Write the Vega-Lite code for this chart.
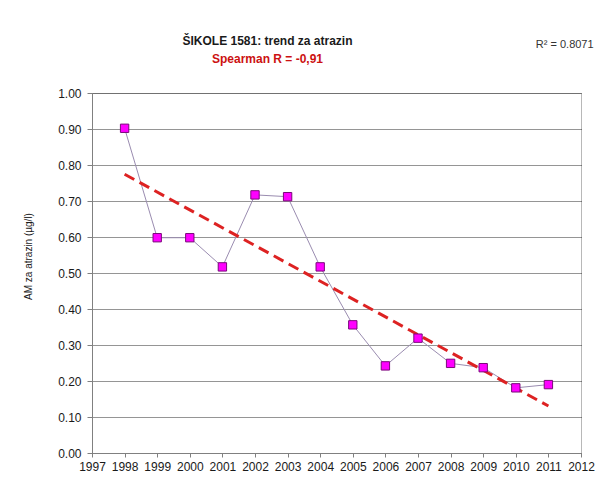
{
  "$schema": "https://vega.github.io/schema/vega-lite/v6.json",
  "width": 489,
  "height": 360,
  "autosize": {"type": "none"},
  "padding": {"left": 92, "top": 93, "right": 25, "bottom": 50},
  "background": "white",
  "title": {
    "text": "ŠIKOLE 1581: trend za atrazin",
    "subtitle": "Spearman R = -0,91",
    "anchor": "middle",
    "frame": "group",
    "dx": -69,
    "offset": -27,
    "font": "Liberation Sans",
    "fontSize": 12,
    "fontWeight": "bold",
    "color": "#1a1a1a",
    "subtitleFont": "Liberation Sans",
    "subtitleFontSize": 12,
    "subtitleFontWeight": "bold",
    "subtitleColor": "#cc1111",
    "subtitlePadding": 6
  },
  "config": {
    "view": {"stroke": "#b8b8b8", "strokeWidth": 1},
    "font": "Liberation Sans"
  },
  "datasets": {
    "atrazin": [
      {"year": 1998, "value": 0.902},
      {"year": 1999, "value": 0.598},
      {"year": 2000, "value": 0.598},
      {"year": 2001, "value": 0.517},
      {"year": 2002, "value": 0.717},
      {"year": 2003, "value": 0.712},
      {"year": 2004, "value": 0.517},
      {"year": 2005, "value": 0.356},
      {"year": 2006, "value": 0.242},
      {"year": 2007, "value": 0.319},
      {"year": 2008, "value": 0.249},
      {"year": 2009, "value": 0.237},
      {"year": 2010, "value": 0.181},
      {"year": 2011, "value": 0.19}
    ],
    "note": [{"label": "R² = 0.8071"}]
  },
  "layer": [
    {
      "data": {"name": "atrazin"},
      "mark": {"type": "line", "color": "#9a8cb0", "strokeWidth": 1},
      "encoding": {
        "x": {
          "field": "year",
          "type": "quantitative",
          "scale": {"domain": [1997, 2012], "nice": false, "zero": false},
          "axis": {
            "title": null,
            "tickCount": 15,
            "format": "d",
            "grid": false,
            "domainColor": "#808080",
            "tickColor": "#808080",
            "tickSize": 4,
            "labelFontSize": 12,
            "labelColor": "#1a1a1a",
            "labelPadding": 4,
            "labelFlush": false,
            "labelOverlap": false
          }
        },
        "y": {
          "field": "value",
          "type": "quantitative",
          "scale": {"domain": [0, 1], "nice": false},
          "axis": {
            "title": "AM za atrazin (µg/l)",
            "titleFontSize": 10,
            "titleFontWeight": "normal",
            "titleColor": "#1a1a1a",
            "titlePadding": 24,
            "titleY": 163,
            "tickCount": 10,
            "format": ".2f",
            "grid": true,
            "gridColor": "#2a2a2a",
            "gridDash": [1, 1],
            "gridWidth": 1,
            "domainColor": "#808080",
            "tickColor": "#808080",
            "tickSize": 5,
            "labelFontSize": 12,
            "labelColor": "#1a1a1a",
            "labelPadding": 6,
            "labelFlush": false,
            "labelOverlap": false
          }
        }
      }
    },
    {
      "data": {"name": "atrazin"},
      "transform": [{"regression": "value", "on": "year", "extent": [1998, 2011]}],
      "mark": {"type": "line", "color": "#dd2222", "strokeWidth": 3, "strokeDash": [11, 6]},
      "encoding": {
        "x": {"field": "year", "type": "quantitative"},
        "y": {"field": "value", "type": "quantitative"}
      }
    },
    {
      "data": {"name": "atrazin"},
      "mark": {"type": "square", "size": 70, "filled": true, "color": "#ff00ff", "stroke": "#7a0a7a", "strokeWidth": 1, "opacity": 1},
      "encoding": {
        "x": {"field": "year", "type": "quantitative"},
        "y": {"field": "value", "type": "quantitative"}
      }
    },
    {
      "data": {"name": "note"},
      "mark": {"type": "text", "fontSize": 11, "color": "#333333", "align": "center", "baseline": "middle"},
      "encoding": {
        "x": {"datum": 2011.5, "type": "quantitative"},
        "y": {"datum": 1.133, "type": "quantitative"},
        "text": {"field": "label"}
      }
    }
  ]
}
